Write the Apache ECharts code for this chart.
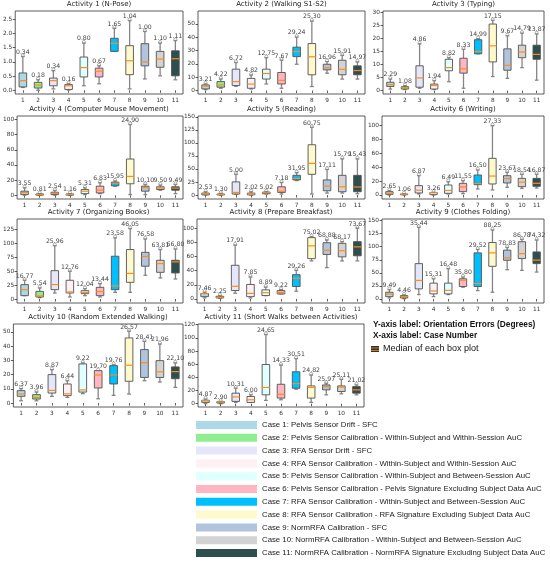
<!DOCTYPE html>
<html><head><meta charset="utf-8">
<script src="https://cdn.jsdelivr.net/npm/echarts@6/dist/echarts.min.js"></script>
<style>html,body{margin:0;padding:0;background:#fff}#c{width:550px;height:565px}</style>
</head><body><div id="c"></div>
<script>
// ---------- data ----------
const cases = ['1','2','3','4','5','6','7','8','9','10','11'];
const caseNames = [
 'Case 1: Pelvis Sensor Drift - SFC',
 'Case 2: Pelvis Sensor Calibration - Within-Subject and Within-Session AuC',
 'Case 3: RFA Sensor Drift - SFC',
 'Case 4: RFA Sensor Calibration - Within-Subject and Within-Session AuC',
 'Case 5: Pelvis Sensor Calibration - Within-Subject and Between-Session AuC',
 'Case 6: Pelvis Sensor Calibration - Pelvis Signature Excluding Subject Data AuC',
 'Case 7: RFA Sensor Calibration - Within-Subject and Between-Session AuC',
 'Case 8: RFA Sensor Calibration - RFA Signature Excluding Subject Data AuC',
 'Case 9: NormRFA Calibration - SFC',
 'Case 10: NormRFA Calibration - Within-Subject and Between-Session AuC',
 'Case 11: NormRFA Calibration - NormRFA Signature Excluding Subject Data AuC'
];
const caseColors = ['#add8e6','#90ee90','#e6e6fa','#fff0f5','#e0ffff','#ffb6c1','#00bfff','#fffacd','#b0c4de','#d3d3d3','#2f4f4f'];
const activityTitles = [
 'Activity 1 (N-Pose)','Activity 2 (Walking S1-S2)','Activity 3 (Typing)',
 'Activity 4 (Computer Mouse Movement)','Activity 5 (Reading)','Activity 6 (Writing)',
 'Activity 7 (Organizing Books)','Activity 8 (Prepare Breakfast)','Activity 9 (Clothes Folding)',
 'Activity 10 (Random Extended Walking)','Activity 11 (Short Walks between Activities)'
];
// each box: [min, Q1, median, Q3, max]
const act1 = [[0.10,0.12,0.34,0.61,1.19],[0.00,0.08,0.18,0.28,0.37],[0.05,0.16,0.34,0.43,0.69],[0.01,0.03,0.16,0.20,0.23],[0.16,0.47,0.80,1.17,1.66],[0.23,0.47,0.67,0.78,0.86],[1.37,1.37,1.65,1.83,2.18],[0.05,0.55,1.04,1.57,2.45],[0.40,0.86,1.00,1.64,2.07],[0.51,0.81,1.10,1.37,1.66],[0.37,0.51,1.11,1.39,1.75]];
const act2 = [[0.7,1.2,3.21,4.2,4.9],[1.7,2.5,4.22,6.7,8.6],[3.2,3.7,6.72,16,21],[1.2,1.7,4.82,9.1,11.6],[4.9,8.6,12.75,16,24.6],[1.7,4.9,7.67,13.5,22.7],[19.7,25.4,29.24,32.5,40],[3,11.8,25.30,35.2,52],[13,15.5,16.96,19.7,21.7],[8.6,11.8,15.91,22.7,26.4],[8.6,11.8,14.97,18.5,21.4]];
const act3 = [[0.6,1.6,2.29,3.2,4.4],[0.4,0.6,1.08,1.5,1.9],[0.9,1.3,4.86,9.5,17.9],[0.4,0.6,1.94,2.5,3.8],[3.4,7.6,8.82,12,12.6],[0.9,6.7,8.33,12.4,15.8],[14.1,14.1,14.99,19.5,19.9],[5.4,11,17.15,25.5,26.9],[4.7,7.8,9.67,16,21],[8.8,12.6,14.79,17.4,22],[4.0,12,13.87,17.4,21.7]];
const act4 = [[0.2,0.9,3.55,5.4,9.8],[0,0.2,0.81,1.8,2.2],[0.2,0.9,2.54,4,6.3],[0,0.2,1.16,1.8,2.2],[0.9,2.2,5.31,7.6,9.8],[2.2,3.1,6.83,12,16.5],[12,12.5,15.95,17.4,18.8],[0.9,15.2,24.90,47.8,93.3],[0.9,5.4,10.10,12,14.3],[6.7,7.6,9.50,11.2,13.4],[2.2,6.7,9.49,11.2,14.3]];
const act5 = [[0,0.3,2.53,3.8,6.3],[0,0.2,1.30,1.9,3.2],[1.3,1.9,5.00,25.2,39.7],[0,0.3,2.02,3.8,6.3],[1.9,2.5,5.02,5.6,6.3],[1.9,5,7.18,15.8,24],[27.7,29,31.95,37.8,42.8],[1.9,39.7,60.75,96.4,129.8],[3.8,8.2,17.11,29,49],[3.8,6.3,15.79,37.8,69.3],[2.5,6.3,15.43,37.8,69.3]];
const act6 = [[0,1,2.65,4.8,6.3],[0,0.3,1.06,1.4,1.6],[1.4,2.9,6.87,13.5,27.9],[0,0.5,3.26,3.6,3.9],[1.4,2.4,6.49,14.4,19.2],[1.9,4.8,11.55,16.8,20.7],[8.7,14.9,16.50,28.8,36],[7.2,15.9,27.33,52.9,100],[11.1,17.3,23.67,27.9,32.7],[9.6,12,18.54,24,29.8],[10.1,12.5,16.87,24,29.8]];
const act7 = [[6,6,16.77,25.8,33.7],[2.4,3.6,5.54,13.8,19.8],[10.8,16.8,25.96,51,96],[3.6,10.8,12.76,33.7,49.9],[6,9.6,12.04,15,18.6],[3.6,6,13.44,21,27.6],[12,16.8,23.58,77,110],[12,30,46.05,89,126.8],[42.7,59,76.58,84,108],[37.9,48,63.81,69.7,89],[36,46.9,66.80,69.7,90]];
const act8 = [[1.4,3.3,7.46,7.8,9.5],[1,1.4,2.25,3.8,4.8],[8.1,11.9,17.91,47.6,76],[1.4,3.3,7.85,20.5,31],[4.8,4.8,8.89,12.9,16.7],[7.1,7.1,9.22,11.9,13.3],[11,17.6,29.26,34.3,40.5],[53.8,57,75.02,86.7,88],[44.3,62.9,68.88,79.5,83.3],[53.8,59.5,68.17,78.6,81],[53.8,61,73.67,81,100]];
const act9 = [[1.9,4.5,9.49,12.9,18],[0.6,1.9,4.46,6.4,7.7],[8.4,19.3,35.44,67.6,137],[4.5,9.7,15.31,30.3,38.6],[8.4,9.7,16.48,30.3,58],[22.5,23.8,35.80,38.6,41.8],[16,23.8,29.52,88.2,94.7],[12.9,62.5,88.25,108,132],[56,74,78.83,93.4,98.5],[54.7,77.3,86.78,109.5,114],[51.5,67.6,74.32,90,112.7]];
const act10 = [[1.6,4.7,6.37,8.7,10.1],[1.6,2.8,3.96,5.9,7.7],[4.7,7,8.87,20,23.5],[4,5.2,6.44,13.4,15.7],[6.6,7.7,9.22,27.5,28.2],[3,10.6,19.70,22.8,22.8],[5.4,13.4,19.76,26.3,27],[6.3,15.3,26.57,45.8,50.5],[15.7,18,28.41,37.6,43.4],[14.8,18,21.96,29.8,41.5],[11,17.1,22.10,25.4,28.2]];
const act11 = [[0,2,4.87,5.2,7],[0,1,2.90,3.2,3.5],[2,3.5,10.31,16,23.5],[2,2,6.00,11,13.5],[5,13.5,24.65,59.5,105],[6,8.5,14.33,29.5,58.5],[22,23.5,30.51,48.5,68.5],[2,8.5,24.82,27,43.5],[13.5,21,25.97,28.5,31],[15,18.5,25.11,27,37],[13.5,16,21.02,26,28.5]];
const activities = [act1,act2,act3,act4,act5,act6,act7,act8,act9,act10,act11];
// y-axis ranges and tick labels
const yMins = [-0.13,-2.6,-1.3,-4.9,-7.6,-5.8,-7.2,-5.7,-7.7,-2.8,-5];
const yMaxs = [2.79,59.6,30.5,104.5,151.5,114,144,113,153,55.6,121];
const yTicks = [
 [0,0.5,1,1.5,2,2.5],[0,10,20,30,40,50],[0,5,10,15,20,25,30],[0,20,40,60,80,100],
 [0,25,50,75,100,125,150],[0,20,40,60,80,100],[0,25,50,75,100,125],[0,20,40,60,80,100],
 [0,25,50,75,100,125,150],[0,10,20,30,40,50],[0,20,40,60,80,100,120]
];

// ---------- layout ----------
const FONT = 'DejaVu Sans';
const gridPos = [
 [15,11,168,83],[198,11,167,83],[383,11,161,83],
 [15,116,168,83],[198,116,167,83],[382,116,162,83],
 [14,219,169,84],[197,219,168,84],[382,219,162,84],
 [13,324,170,83],[198,324,166,83]
];

function renderBox(params, api){
  const x = api.value(0);
  const v = [1,2,3,4,5].map(i => api.value(i));
  const pts = v.map(val => api.coord([x, val]));
  const cx = pts[0][0];
  const band = api.size([1,0])[0];
  const hw = band*0.25, cap = band*0.125;
  const color = api.visual('color');
  const yMin = pts[0][1], yQ1 = pts[1][1], yMed = pts[2][1], yQ3 = pts[3][1], yMax = pts[4][1];
  const wst = {stroke:'#858585', lineWidth:1.3};
  return {type:'group', children:[
    {type:'line', shape:{x1:cx,y1:yQ1,x2:cx,y2:yMin}, style:wst},
    {type:'line', shape:{x1:cx,y1:yQ3,x2:cx,y2:yMax}, style:wst},
    {type:'line', shape:{x1:cx-cap,y1:yMin,x2:cx+cap,y2:yMin}, style:wst},
    {type:'line', shape:{x1:cx-cap,y1:yMax,x2:cx+cap,y2:yMax}, style:wst},
    {type:'rect', shape:{x:cx-hw, y:yQ3, width:2*hw, height:Math.max(yQ1-yQ3,0.6)}, style:{fill:color, stroke:'#505050', lineWidth:0.9}},
    {type:'line', shape:{x1:cx-hw,y1:yMed,x2:cx+hw,y2:yMed}, style:{stroke:'#ff8c1a', lineWidth:1.2}},
    {type:'circle', shape:{cx:cx, cy:yMax-1.2, r:1.5}, style:{fill:'none', stroke:'#8a8a8a', lineWidth:0.7}},
    {type:'text', style:{text:v[2].toFixed(2), x:cx, y:yMax-1.3, align:'center', verticalAlign:'bottom', fontSize:6.2, fontFamily:FONT, fill:'#444'}}
  ]};
}

const grids = [], xAxes = [], yAxes = [], titles = [], series = [];
activities.forEach((act, a) => {
  const [l,t,w,h] = gridPos[a];
  grids.push({left:l, top:t, width:w, height:h, show:true, borderColor:'#333', borderWidth:0.8, backgroundColor:'transparent'});
  xAxes.push({type:'category', gridIndex:a, data:cases, axisLine:{show:false},
    axisTick:{show:true, alignWithLabel:true, length:2.5, lineStyle:{color:'#333', width:0.8}},
    axisLabel:{fontSize:5.8, color:'#333', margin:3, fontFamily:FONT}, splitLine:{show:false}});
  yAxes.push({type:'value', gridIndex:a, min:yMins[a], max:yMaxs[a], axisLine:{show:false},
    axisTick:{show:true, length:2.5, customValues:yTicks[a], lineStyle:{color:'#333', width:0.8}},
    axisLabel:{customValues:yTicks[a], fontSize:5.8, color:'#333', margin:3, fontFamily:FONT,
      formatter: a===0 ? (v => Number(v).toFixed(1)) : (v => String(v))},
    splitLine:{show:false}});
  titles.push({text:activityTitles[a], left:l+w/2, top:t-10.5, textAlign:'center', padding:0,
    textStyle:{fontSize:7, fontWeight:'normal', color:'#222', fontFamily:FONT}});
  act.forEach((box, c) => {
    series.push({type:'custom', name:caseNames[c], xAxisIndex:a, yAxisIndex:a,
      itemStyle:{color:caseColors[c]}, data:[[c].concat(box)], renderItem:renderBox, clip:false,
      encode:{x:0, y:[1,2,3,4,5]}});
  });
});

const option = {
  animation:false,
  backgroundColor:'#fff',
  title:titles,
  grid:grids, xAxis:xAxes, yAxis:yAxes,
  legend:{orient:'vertical', left:196, top:420, itemWidth:61, itemHeight:8, itemGap:2.8, icon:'rect',
    selectedMode:false, padding:0, data:caseNames,
    textStyle:{fontFamily:'Liberation Sans', fontSize:7.8, color:'#222', lineHeight:10}},
  graphic:[
    {type:'text', x:373, y:325, style:{text:'Y-axis label: Orientation Errors (Degrees)', fontSize:8.3, fontWeight:'bold', fontFamily:'Liberation Sans', fill:'#111', verticalAlign:'middle'}},
    {type:'text', x:373, y:336, style:{text:'X-axis label: Case Number', fontSize:8.3, fontWeight:'bold', fontFamily:'Liberation Sans', fill:'#111', verticalAlign:'middle'}},
    {type:'rect', shape:{x:371, y:346, width:8, height:6}, style:{fill:'#333'}},
    {type:'line', shape:{x1:371, y1:348, x2:379, y2:348}, style:{stroke:'#ff8c1a', lineWidth:0.8}},
    {type:'line', shape:{x1:371, y1:350.5, x2:379, y2:350.5}, style:{stroke:'#ff8c1a', lineWidth:0.8}},
    {type:'text', x:383, y:349, style:{text:'Median of each box plot', fontSize:9, fontFamily:'Liberation Sans', fill:'#111', verticalAlign:'middle'}}
  ],
  series:series
};
const chart = echarts.init(document.getElementById('c'), null, {renderer:'canvas'});
chart.setOption(option);
</script></body></html>
